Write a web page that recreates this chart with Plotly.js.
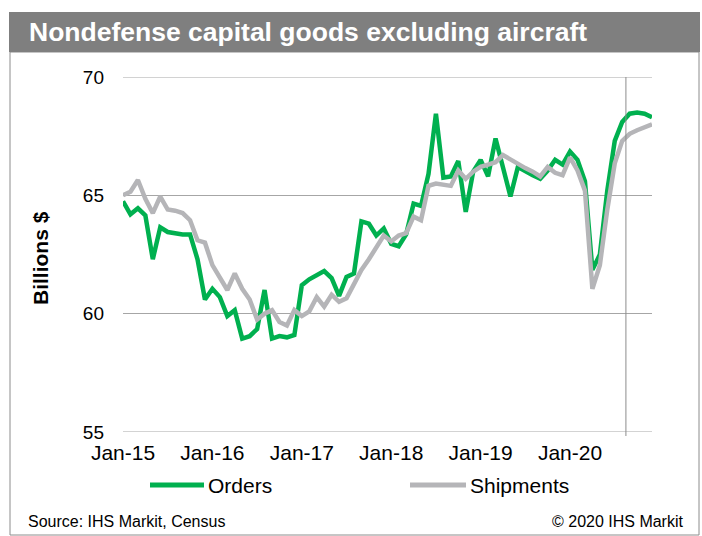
<!DOCTYPE html>
<html>
<head>
<meta charset="utf-8">
<script src="https://cdn.plot.ly/plotly-3.0.1.min.js"></script>
<style>
html,body{margin:0;padding:0;background:#fff;}
#chart{width:702px;height:536px;}
</style>
</head>
<body>
<div id="chart"></div>
<script>
var months = [
 "Jan-15","Feb-15","Mar-15","Apr-15","May-15","Jun-15","Jul-15","Aug-15","Sep-15","Oct-15","Nov-15","Dec-15",
 "Jan-16","Feb-16","Mar-16","Apr-16","May-16","Jun-16","Jul-16","Aug-16","Sep-16","Oct-16","Nov-16","Dec-16",
 "Jan-17","Feb-17","Mar-17","Apr-17","May-17","Jun-17","Jul-17","Aug-17","Sep-17","Oct-17","Nov-17","Dec-17",
 "Jan-18","Feb-18","Mar-18","Apr-18","May-18","Jun-18","Jul-18","Aug-18","Sep-18","Oct-18","Nov-18","Dec-18",
 "Jan-19","Feb-19","Mar-19","Apr-19","May-19","Jun-19","Jul-19","Aug-19","Sep-19","Oct-19","Nov-19","Dec-19",
 "Jan-20","Feb-20","Mar-20","Apr-20","May-20","Jun-20","Jul-20","Aug-20","Sep-20","Oct-20","Nov-20","Dec-20"
];
var orders = [
 64.75, 64.2, 64.45, 64.15, 62.3, 63.65, 63.45, 63.4, 63.35, 63.35, 62.3, 60.6,
 61.05, 60.7, 59.9, 60.15, 58.95, 59.05, 59.35, 61.0, 58.95, 59.05, 59.0, 59.1,
 61.2, 61.45, 61.65, 61.8, 61.5, 60.75, 61.55, 61.7, 63.9, 63.8, 63.3, 63.6,
 62.95, 62.85, 63.35, 64.65, 64.55, 65.9, 68.45, 65.75, 65.8, 66.45, 64.3, 66.0,
 66.5, 65.8, 67.4, 66.2, 64.95, 66.2, 66.0, 65.85, 65.7, 66.05, 66.5, 66.3,
 66.85, 66.5, 65.6, 61.85, 62.5, 65.2, 67.3, 68.1, 68.45, 68.5, 68.45, 68.3
];
var shipments = [
 65.0, 65.15, 65.65, 64.85, 64.25, 64.95, 64.4, 64.35, 64.25, 63.95, 63.1, 63.0,
 62.05, 61.5, 61.0, 61.7, 61.05, 60.6, 59.75, 60.0, 60.15, 59.65, 59.5, 60.15,
 59.9, 60.1, 60.7, 60.3, 60.8, 60.5, 60.65, 61.25, 61.85, 62.3, 62.8, 63.3,
 63.05, 63.3, 63.4, 64.1, 63.95, 65.4, 65.5, 65.45, 65.4, 66.05, 65.7, 66.0,
 66.2, 66.3, 66.4, 66.7, 66.5, 66.3, 66.15, 66.0, 65.8, 66.2, 65.95, 65.85,
 66.6, 66.05, 65.2, 61.05, 62.05, 64.4, 66.35, 67.3, 67.6, 67.75, 67.88, 68.0
];
var xTicks = ["Jan-15","Jan-16","Jan-17","Jan-18","Jan-19","Jan-20"];
var yTicks = [55, 60, 65, 70];
var seriesNames = ["Orders", "Shipments"];
var titleText = "Nondefense capital goods excluding aircraft";
var yTitle = "Billions $";
var sourceText = "Source: IHS Markit, Census";
var copyrightText = "\u00a9 2020 IHS Markit";
var markerMonth = 67.5;

var W = 702, H = 536;
var L = 123, R = 652, T = 77, B = 432;
function px(x){ return (x - L) / (R - L); }
function py(y){ return (B - y) / (B - T); }

var green = "#00b04f", grey = "#b5b5b8", gridColor = "#a6a6a6";
var font = "Arial, 'Liberation Sans', sans-serif";

var traces = [
 {x: months, y: orders, name: seriesNames[0], type: "scatter", mode: "lines",
  line: {color: green, width: 4.5, shape: "linear"}, showlegend: false},
 {x: months, y: shipments, name: seriesNames[1], type: "scatter", mode: "lines",
  line: {color: grey, width: 4.5, shape: "linear"}, showlegend: false}
];

var shapes = [
 {type: "rect", xref: "paper", yref: "paper", x0: px(10), x1: px(699), y0: py(535), y1: py(52),
  line: {color: "#8c8c8c", width: 1}, fillcolor: "rgba(0,0,0,0)", layer: "below"},
 {type: "rect", xref: "paper", yref: "paper", x0: px(9), x1: px(700), y0: py(52), y1: py(12),
  line: {width: 0}, fillcolor: "#7f7f7f", layer: "below"},
 {type: "line", xref: "x", yref: "paper", x0: markerMonth, x1: markerMonth, y0: py(436), y1: 1,
  line: {color: "#8c8c8c", width: 1}},
 {type: "line", xref: "paper", yref: "paper", x0: px(150), x1: px(204), y0: py(485), y1: py(485),
  line: {color: green, width: 5}},
 {type: "line", xref: "paper", yref: "paper", x0: px(410), x1: px(466), y0: py(485), y1: py(485),
  line: {color: grey, width: 5}}
];
// edge gridlines (Plotly skips grid lines lying on the plot edges)
[yTicks[0], yTicks[yTicks.length - 1]].forEach(function(v){
 shapes.push({type: "line", xref: "paper", yref: "y", x0: 0, x1: 1, y0: v, y1: v,
  line: {color: gridColor, width: 1}, layer: "below"});
});

var annotations = [
 {text: titleText, xref: "paper", yref: "paper", x: px(27), y: py(32), xanchor: "left", yanchor: "middle",
  showarrow: false, font: {family: font, size: 26.5, color: "#ffffff", weight: "bold"}},
 {text: "<b>" + yTitle + "</b>", xref: "paper", yref: "paper", x: px(40), y: py(258), xanchor: "center", yanchor: "middle",
  textangle: -90, showarrow: false, font: {family: font, size: 21, color: "#000000"}},
 {text: seriesNames[0], xref: "paper", yref: "paper", x: px(206), y: py(485), xanchor: "left", yanchor: "middle",
  showarrow: false, font: {family: font, size: 21, color: "#000000"}},
 {text: seriesNames[1], xref: "paper", yref: "paper", x: px(468), y: py(485), xanchor: "left", yanchor: "middle",
  showarrow: false, font: {family: font, size: 21, color: "#000000"}},
 {text: sourceText, xref: "paper", yref: "paper", x: px(26), y: py(521), xanchor: "left", yanchor: "middle",
  showarrow: false, font: {family: font, size: 16, color: "#000000"}},
 {text: copyrightText, xref: "paper", yref: "paper", x: px(686), y: py(521), xanchor: "right", yanchor: "middle",
  showarrow: false, font: {family: font, size: 16, color: "#000000"}}
];

var layout = {
 width: W, height: H,
 margin: {l: L, r: W - R, t: T, b: H - B, pad: 0},
 paper_bgcolor: "#ffffff", plot_bgcolor: "#ffffff",
 showlegend: false,
 xaxis: {type: "category", range: [0, months.length - 1], tickvals: xTicks, ticktext: xTicks,
  showgrid: false, zeroline: false, showline: false, ticks: "", ticklabelstandoff: 6,
  tickfont: {family: font, size: 21, color: "#000000"}, fixedrange: true},
 yaxis: {range: [55, 70], tickvals: yTicks, ticktext: yTicks.map(String),
  showgrid: true, gridcolor: gridColor, gridwidth: 1, zeroline: false, showline: false, ticks: "",
  ticklabelstandoff: 18, tickfont: {family: font, size: 19, color: "#000000"}, fixedrange: true},
 shapes: shapes,
 annotations: annotations
};

Plotly.newPlot("chart", traces, layout, {displayModeBar: false, staticPlot: true});
</script>
</body>
</html>
